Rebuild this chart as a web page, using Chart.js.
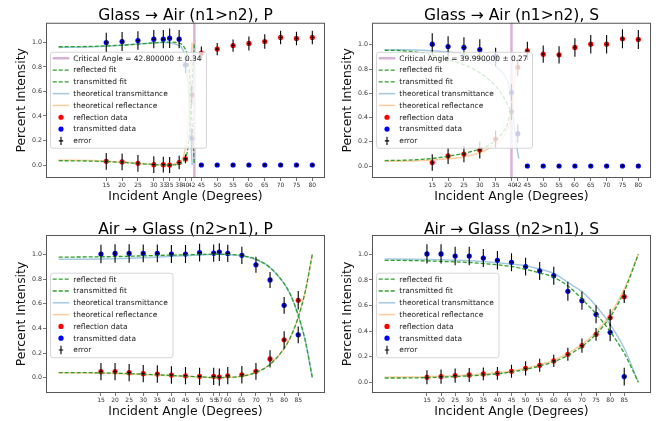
<!DOCTYPE html>
<html>
<head>
<meta charset="utf-8">
<script src="https://cdn.jsdelivr.net/npm/chart.js@4.4.1/dist/chart.umd.min.js"></script>
<style>
  html, body { margin: 0; padding: 0; background: #fff; }
  #wrap { position: relative; width: 656px; height: 421px; overflow: hidden; }
  canvas { position: absolute; }
</style>
</head>
<body>
<div id="wrap">
  <canvas id="gaP" width="330" height="210" style="left:0;top:0"></canvas>
  <canvas id="gaS" width="330" height="210" style="left:326px;top:0"></canvas>
  <canvas id="agP" width="330" height="211" style="left:0;top:210px"></canvas>
  <canvas id="agS" width="330" height="211" style="left:326px;top:210px"></canvas>
</div>
<script>
'use strict';

/* Glass -> Air, P */
const gaPAngles = [15, 20, 25, 30, 33, 35, 38, 40, 42, 45, 50, 55, 60, 65, 70, 75, 80];
const gaPRefl = [0.03, 0.025, 0.014, 0.003, 0.003, 0.0, 0.02, 0.05, 0.572, 0.913, 0.946, 0.975, 0.992, 1.008, 1.041, 1.033, 1.041];
const gaPTrans = [1.0, 1.008, 1.016, 1.027, 1.027, 1.035, 1.027, 0.817, 0.218, 0, 0, 0, 0, 0, 0, 0, 0];
const gaPReflErr = [0.068, 0.068, 0.068, 0.068, 0.065, 0.065, 0.055, 0.035, 0.08, 0.055, 0.05, 0.05, 0.057, 0.06, 0.055, 0.055, 0.055];
const gaPTransErr = [0.08, 0.078, 0.075, 0.075, 0.075, 0.08, 0.075, 0.068, 0.08, 0, 0, 0, 0, 0, 0, 0, 0];
const gaPFitX = [0, 5, 10, 15, 20, 25, 30, 34, 37, 38.5, 39.5, 40.5, 41.2, 41.8, 42.3, 42.8];
const gaPReflFit = [0.035, 0.034, 0.032, 0.028, 0.022, 0.013, 0.004, 0.0, 0.003, 0.012, 0.035, 0.1, 0.24, 0.5, 0.78, 1.0];
const gaPTransFit = [0.965, 0.966, 0.968, 0.972, 0.978, 0.987, 0.997, 1.003, 1.0, 0.99, 0.965, 0.9, 0.76, 0.5, 0.22, 0.0];
const gaPTheoryX = [0, 5, 10, 15, 20, 25, 30, 33.7, 37, 39, 40, 41, 41.5, 41.8, 42.1];
const gaPTheoryT = [0.96, 0.961, 0.964, 0.969, 0.977, 0.987, 0.996, 1.0, 0.985, 0.95, 0.86, 0.6, 0.35, 0.15, 0.0];
const gaPTheoryR = [0.04, 0.039, 0.036, 0.031, 0.023, 0.013, 0.004, 0.0, 0.015, 0.05, 0.14, 0.4, 0.65, 0.85, 1.0];
const gaPCrit = 42.8;

/* Glass -> Air, S */
const gaSAngles = [15, 20, 25, 30, 35, 40, 42, 45, 50, 55, 60, 65, 70, 75, 80];
const gaSRefl = [0.028, 0.083, 0.099, 0.132, 0.223, 0.449, 0.815, 0.95, 0.923, 0.917, 0.978, 1.005, 1.005, 1.05, 1.044];
const gaSTrans = [1.005, 0.986, 0.978, 0.96, 0.9, 0.606, 0.267, 0, 0, 0, 0, 0, 0, 0, 0];
const gaSReflErr = [0.068, 0.066, 0.068, 0.07, 0.07, 0.07, 0.07, 0.076, 0.072, 0.072, 0.076, 0.076, 0.076, 0.078, 0.078];
const gaSTransErr = [0.09, 0.085, 0.085, 0.085, 0.075, 0.07, 0.075, 0, 0, 0, 0, 0, 0, 0, 0];
const gaSFitX = [0, 5, 10, 15, 20, 25, 30, 33, 35, 37, 38.5, 39.5, 40];
const gaSReflFit = [0.045, 0.047, 0.052, 0.062, 0.08, 0.105, 0.14, 0.175, 0.21, 0.27, 0.33, 0.42, 0.46];
const gaSTransFit = [0.955, 0.952, 0.94, 0.915, 0.88, 0.835, 0.77, 0.71, 0.66, 0.59, 0.52, 0.47, 0.46];
const gaSTheoryX = [0, 5, 10, 15, 20, 25, 30, 35, 38, 39.5, 40.6, 41.6, 42.3];
const gaSTheoryT = [0.96, 0.96, 0.957, 0.95, 0.94, 0.925, 0.89, 0.82, 0.74, 0.63, 0.4, 0.17, 0.06];
const gaSTheoryR = [0.04, 0.04, 0.043, 0.05, 0.06, 0.075, 0.11, 0.18, 0.26, 0.37, 0.6, 0.83, 0.94];
const gaSCrit = 39.99;

/* Air -> Glass, P */
const agPAngles = [15, 20, 25, 30, 35, 40, 45, 50, 55, 57, 60, 65, 70, 75, 80, 85];
const agPRefl = [0.049, 0.049, 0.041, 0.033, 0.03, 0.022, 0.016, 0.011, 0.011, 0.005, 0.016, 0.024, 0.052, 0.152, 0.307, 0.628];
const agPTrans = [1.003, 1.008, 1.008, 1.008, 1.008, 1.003, 1.003, 1.014, 1.01, 1.019, 1.008, 0.992, 0.916, 0.793, 0.587, 0.348];
const agPReflErr = [0.07, 0.07, 0.07, 0.07, 0.07, 0.07, 0.07, 0.07, 0.07, 0.07, 0.07, 0.07, 0.068, 0.07, 0.07, 0.075];
const agPTransErr = [0.075, 0.075, 0.075, 0.072, 0.072, 0.072, 0.072, 0.072, 0.07, 0.072, 0.07, 0.07, 0.065, 0.065, 0.068, 0.068];
const agPCurveX = [0, 10, 20, 30, 40, 50, 56, 60, 65, 70, 75, 80, 82.5, 85, 87.5, 90];
const agPReflFit = [0.042, 0.041, 0.037, 0.029, 0.018, 0.007, 0.001, 0.003, 0.013, 0.043, 0.108, 0.238, 0.34, 0.49, 0.7, 1.0];
const agPTransFit = [0.978, 0.979, 0.982, 0.988, 0.994, 0.999, 1.001, 0.999, 0.99, 0.96, 0.893, 0.763, 0.66, 0.507, 0.3, 0.0];
const agPTheoryT = [0.96, 0.961, 0.965, 0.973, 0.984, 0.994, 1.0, 0.998, 0.988, 0.958, 0.893, 0.763, 0.66, 0.507, 0.3, 0.0];
const agPTheoryR = [0.04, 0.039, 0.035, 0.027, 0.016, 0.006, 0.0, 0.002, 0.012, 0.042, 0.107, 0.237, 0.34, 0.493, 0.7, 1.0];

/* Air -> Glass, S */
const agSAngles = [15, 20, 25, 30, 35, 40, 45, 50, 55, 60, 65, 70, 75, 80, 85];
const agSRefl = [0.039, 0.044, 0.052, 0.057, 0.065, 0.07, 0.086, 0.109, 0.133, 0.167, 0.219, 0.286, 0.375, 0.505, 0.669];
const agSTrans = [1.003, 1.003, 0.987, 0.987, 0.971, 0.953, 0.938, 0.904, 0.87, 0.833, 0.711, 0.638, 0.531, 0.39, 0.044];
const agSReflErr = [0.055, 0.055, 0.055, 0.055, 0.05, 0.05, 0.05, 0.056, 0.05, 0.048, 0.05, 0.056, 0.05, 0.065, 0.05];
const agSTransErr = [0.075, 0.075, 0.072, 0.072, 0.07, 0.072, 0.07, 0.07, 0.07, 0.07, 0.074, 0.072, 0.07, 0.07, 0.07];
const agSCurveX = [0, 10, 20, 30, 40, 45, 50, 55, 60, 65, 70, 75, 80, 85, 90];
const agSReflFit = [0.033, 0.034, 0.04, 0.05, 0.066, 0.08, 0.1, 0.127, 0.16, 0.21, 0.28, 0.375, 0.51, 0.71, 1.0];
const agSTransFit = [0.953, 0.951, 0.945, 0.936, 0.918, 0.905, 0.883, 0.855, 0.82, 0.753, 0.651, 0.534, 0.396, 0.227, 0.0];
const agSTheoryT = [0.964, 0.962, 0.957, 0.95, 0.935, 0.925, 0.911, 0.885, 0.852, 0.78, 0.708, 0.596, 0.453, 0.266, 0.0];
const agSTheoryR = [0.04, 0.041, 0.047, 0.057, 0.074, 0.088, 0.11, 0.138, 0.172, 0.225, 0.296, 0.39, 0.53, 0.73, 1.0];

const yTickValues = [0, 0.2, 0.4, 0.6, 0.8, 1.0];

const FONT = "'DejaVu Sans', Verdana, sans-serif";
const GREEN = '#2ca02c';
const THEORY_T = 'rgba(31, 119, 180, 0.4)';
const THEORY_R = 'rgba(255, 127, 14, 0.4)';
const CRIT = 'rgba(128, 0, 128, 0.3)';
const AXIS = '#555';

function pts(xs, ys) {
  return xs.map((x, i) => ({ x, y: ys[i] }));
}

function curve(label, xs, ys, color, dashed, order) {
  return {
    label,
    data: pts(xs, ys),
    showLine: true,
    borderColor: color,
    borderWidth: dashed ? 1.3 : 1.5,
    borderDash: dashed ? [4, 2] : [],
    pointRadius: 0,
    cubicInterpolationMode: 'monotone',
    order,
  };
}

function dots(label, xs, ys, color) {
  return { label, data: pts(xs, ys), backgroundColor: color, borderWidth: 0, pointRadius: 2.6, order: 20 };
}

// crit line under the data, error bars + frame + legend on top
const panelPlugin = {
  id: 'panel',
  beforeDatasetsDraw(chart, args, o) {
    if (o.crit == null) return;
    const { ctx, chartArea: a, scales: { x } } = chart;
    const px = x.getPixelForValue(o.crit);
    ctx.save();
    ctx.strokeStyle = CRIT;
    ctx.lineWidth = 2.5;
    ctx.beginPath();
    ctx.moveTo(px, a.top);
    ctx.lineTo(px, a.bottom);
    ctx.stroke();
    ctx.restore();
  },
  afterDatasetsDraw(chart, args, o) {
    const { ctx, chartArea: a, scales: { x, y } } = chart;
    ctx.save();
    ctx.beginPath();
    ctx.rect(a.left, a.top, a.right - a.left, a.bottom - a.top);
    ctx.clip();
    ctx.strokeStyle = '#000';
    ctx.lineWidth = 1.1;
    o.errors.forEach((s) => {
      o.angles.forEach((ang, i) => {
        const v = s.vals[i];
        const e = s.err[i];
        const px = x.getPixelForValue(ang);
        const py = y.getPixelForValue(v);
        ctx.beginPath();
        if (e > 0) {
          ctx.moveTo(px, y.getPixelForValue(v + e));
          ctx.lineTo(px, y.getPixelForValue(v - e));
        }
        ctx.moveTo(px - 1.6, py);
        ctx.lineTo(px + 1.6, py);
        ctx.moveTo(px, py - 1.6);
        ctx.lineTo(px, py + 1.6);
        ctx.stroke();
      });
    });
    ctx.restore();
  },
  afterDraw(chart, args, o) {
    const { ctx, chartArea: a } = chart;
    ctx.save();
    ctx.strokeStyle = AXIS;
    ctx.lineWidth = 1;
    ctx.strokeRect(a.left + 0.5, a.top + 0.5, a.right - a.left - 1, a.bottom - a.top - 1);
    drawLegend(ctx, a, o.legend);
    ctx.restore();
  },
};

function drawLegend(ctx, a, lg) {
  const bx = a.left + lg.dx;
  const by = a.top + lg.dy;
  ctx.beginPath();
  if (ctx.roundRect) ctx.roundRect(bx + 0.5, by + 0.5, lg.w, lg.h, 2.5);
  else ctx.rect(bx + 0.5, by + 0.5, lg.w, lg.h);
  ctx.fillStyle = 'rgba(255, 255, 255, 0.8)';
  ctx.fill();
  ctx.strokeStyle = 'rgba(204, 204, 204, 0.8)';
  ctx.lineWidth = 1;
  ctx.stroke();

  ctx.font = '7.45px ' + FONT;
  ctx.textBaseline = 'middle';
  lg.items.forEach((it, i) => {
    const cy = by + 6.5 + i * 11.8;
    ctx.save();
    if (it.kind === 'line') {
      ctx.strokeStyle = it.color;
      ctx.lineWidth = it.width;
      ctx.setLineDash(it.dash || []);
      ctx.beginPath();
      ctx.moveTo(bx + 2.7, cy);
      ctx.lineTo(bx + 19.3, cy);
      ctx.stroke();
    } else if (it.kind === 'dot') {
      ctx.fillStyle = it.color;
      ctx.beginPath();
      ctx.arc(bx + 11, cy, 2.6, 0, Math.PI * 2);
      ctx.fill();
    } else {
      ctx.strokeStyle = '#000';
      ctx.lineWidth = 1.1;
      ctx.beginPath();
      ctx.moveTo(bx + 11, cy - 4.2);
      ctx.lineTo(bx + 11, cy + 4.2);
      ctx.moveTo(bx + 8.8, cy);
      ctx.lineTo(bx + 13.2, cy);
      ctx.stroke();
    }
    ctx.restore();
    ctx.fillStyle = '#1a1a1a';
    ctx.fillText(it.label, bx + 23.3, cy + 0.5);
  });
}

function legendItems(critLabel) {
  const items = [];
  if (critLabel) items.push({ label: critLabel, kind: 'line', color: CRIT, width: 2.5 });
  items.push(
    { label: 'reflected fit', kind: 'line', color: GREEN, width: 1.3, dash: [4, 2] },
    { label: 'transmitted fit', kind: 'line', color: GREEN, width: 1.3, dash: [4, 2] },
    { label: 'theoretical transmittance', kind: 'line', color: THEORY_T, width: 1.5 },
    { label: 'theoretical reflectance', kind: 'line', color: THEORY_R, width: 1.5 },
    { label: 'reflection data', kind: 'dot', color: '#ff0000' },
    { label: 'transmitted data', kind: 'dot', color: '#0000ff' },
    { label: 'error', kind: 'err' }
  );
  return items;
}

function buildChart(id, p) {
  const datasets = [
    curve('theoretical transmittance', p.theoryX, p.theoryT, THEORY_T, false, 8),
    curve('theoretical reflectance', p.theoryX, p.theoryR, THEORY_R, false, 7),
    curve('reflected fit', p.fitX, p.reflFit, GREEN, true, 6),
    curve('transmitted fit', p.fitX, p.transFit, GREEN, true, 5),
    dots('reflection data', p.angles, p.refl, '#ff0000'),
    dots('transmitted data', p.angles, p.trans, '#0000ff'),
  ];

  return new Chart(document.getElementById(id), {
    type: 'scatter',
    data: { datasets },
    plugins: [panelPlugin],
    options: {
      responsive: false,
      devicePixelRatio: 1,
      animation: false,
      events: [],
      layout: { padding: { right: 5 } },
      plugins: {
        legend: { display: false },
        tooltip: { enabled: false },
        title: {
          display: true,
          text: p.title,
          fullSize: false,
          color: '#000',
          font: { family: FONT, size: 15.5, weight: 'normal', lineHeight: 0.5 },
          padding: p.titlePad,
        },
        panel: {
          crit: p.crit,
          angles: p.angles,
          errors: [
            { vals: p.refl, err: p.reflErr },
            { vals: p.trans, err: p.transErr },
          ],
          legend: p.legend,
        },
      },
      scales: {
        x: {
          type: 'linear',
          min: p.xMin,
          max: p.xMax,
          afterBuildTicks: (s) => { s.ticks = p.angles.map((v) => ({ value: v })); },
          afterFit: (s) => { s.height = p.xAxisH; },
          ticks: {
            autoSkip: false,
            maxRotation: 0,
            minRotation: 0,
            padding: 1,
            color: '#333',
            font: { family: FONT, size: 6 },
            callback: (v) => String(v),
          },
          grid: { drawOnChartArea: false, drawTicks: true, tickLength: 3, color: AXIS, lineWidth: 0.8 },
          border: { display: false },
          title: {
            display: true,
            text: 'Incident Angle (Degrees)',
            color: '#111',
            font: { family: FONT, size: 12.4 },
            padding: { top: 0, bottom: p.xTitlePad },
          },
        },
        y: {
          type: 'linear',
          min: p.yMin,
          max: p.yMax,
          afterBuildTicks: (s) => { s.ticks = yTickValues.map((v) => ({ value: v })); },
          afterFit: (s) => { s.width = 46; },
          ticks: {
            padding: 1,
            color: '#333',
            font: { family: FONT, size: 6.3 },
            callback: (v) => v.toFixed(1),
          },
          grid: { drawOnChartArea: false, drawTicks: true, tickLength: 3, color: AXIS, lineWidth: 0.8 },
          border: { display: false },
          title: {
            display: true,
            text: 'Percent Intensity',
            color: '#111',
            font: { family: FONT, size: 12.4 },
            padding: { top: 14.3, bottom: 0 },
          },
        },
      },
    },
  });
}

const topLegend = { dx: 4, dy: 29, w: 156, h: 96 };
const bottomLegend = { dx: 4, dy: 37.7, w: 122.5, h: 84.5 };

buildChart('gaP', {
  title: 'Glass → Air (n1>n2), P',
  titlePad: { top: 12, bottom: 3 },
  angles: gaPAngles, refl: gaPRefl, trans: gaPTrans, reflErr: gaPReflErr, transErr: gaPTransErr,
  fitX: gaPFitX, reflFit: gaPReflFit, transFit: gaPTransFit,
  theoryX: gaPTheoryX, theoryT: gaPTheoryT, theoryR: gaPTheoryR,
  crit: gaPCrit,
  xMin: -4, xMax: 84, yMin: -0.106, yMax: 1.161, xAxisH: 32, xTitlePad: 6.1,
  legend: Object.assign({ items: legendItems('Critical Angle = 42.800000 ± 0.34') }, topLegend),
});

buildChart('gaS', {
  title: 'Glass → Air (n1>n2), S',
  titlePad: { top: 12, bottom: 3 },
  angles: gaSAngles, refl: gaSRefl, trans: gaSTrans, reflErr: gaSReflErr, transErr: gaSTransErr,
  fitX: gaSFitX, reflFit: gaSReflFit, transFit: gaSTransFit,
  theoryX: gaSTheoryX, theoryT: gaSTheoryT, theoryR: gaSTheoryR,
  crit: gaSCrit,
  xMin: -4, xMax: 84, yMin: -0.099, yMax: 1.182, xAxisH: 32, xTitlePad: 6.1,
  legend: Object.assign({ items: legendItems('Critical Angle = 39.990000 ± 0.27') }, topLegend),
});

buildChart('agP', {
  title: 'Air → Glass (n2>n1), P',
  titlePad: { top: 16.4, bottom: 0.85 },
  angles: agPAngles, refl: agPRefl, trans: agPTrans, reflErr: agPReflErr, transErr: agPTransErr,
  fitX: agPCurveX, reflFit: agPReflFit, transFit: agPTransFit,
  theoryX: agPCurveX, theoryT: agPTheoryT, theoryR: agPTheoryR,
  crit: null,
  xMin: -4.5, xMax: 94.5, yMin: -0.124, yMax: 1.157, xAxisH: 28, xTitlePad: 1.8,
  legend: Object.assign({ items: legendItems(null) }, bottomLegend),
});

buildChart('agS', {
  title: 'Air → Glass (n2>n1), S',
  titlePad: { top: 16.4, bottom: 0.85 },
  angles: agSAngles, refl: agSRefl, trans: agSTrans, reflErr: agSReflErr, transErr: agSTransErr,
  fitX: agSCurveX, reflFit: agSReflFit, transFit: agSTransFit,
  theoryX: agSCurveX, theoryT: agSTheoryT, theoryR: agSTheoryR,
  crit: null,
  xMin: -4.5, xMax: 94.5, yMin: -0.084, yMax: 1.151, xAxisH: 28, xTitlePad: 1.8,
  legend: Object.assign({ items: legendItems(null) }, bottomLegend),
});
</script>
</body>
</html>
